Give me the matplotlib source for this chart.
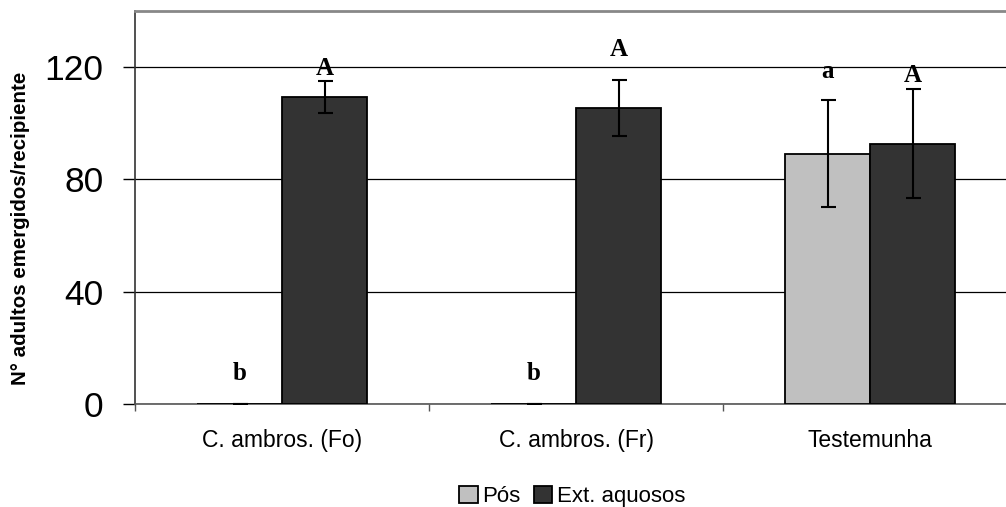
import matplotlib
matplotlib.use("Agg")
import matplotlib.pyplot as plt
import numpy as np
from matplotlib.patches import Patch

# Data
categories = ["C. ambros. (Fo)", "C. ambros. (Fr)", "Testemunha"]
series_names = ["Pós", "Ext. aquosos"]
pos_mean = [0.0, 0.0, 89.2]
pos_err = [0.0, 0.0, 19.0]
ext_mean = [109.4, 105.6, 92.8]
ext_err = [5.7, 10.0, 19.5]
pos_letters = ["b", "b", "a"]
ext_letters = ["A", "A", "A"]
pos_letter_y = [11.0, 11.0, 118.3]
ext_letter_y = [119.6, 126.2, 117.1]
yticks = [0, 40, 80, 120]

light = "#c0c0c0"
dark = "#333333"

fig = plt.figure(figsize=(10.06, 5.07), dpi=100)
ax = fig.add_axes([0.1342, 0.2032, 0.877, 0.775])

x = np.arange(len(categories))
w = 0.289
off = w / 2

err_kw = dict(ecolor="black", elinewidth=1.5, capsize=5.4, capthick=1.5)
ax.bar(x - off, pos_mean, w, color=light, edgecolor="black", linewidth=1.3,
       yerr=pos_err, error_kw=err_kw, zorder=3, label=series_names[0])
ax.bar(x + off, ext_mean, w, color=dark, edgecolor="black", linewidth=1.3,
       yerr=ext_err, error_kw=err_kw, zorder=3, label=series_names[1])

serif = dict(family="Liberation Serif", fontweight="bold", fontsize=18)
for i in range(len(categories)):
    ax.text(x[i] - off, pos_letter_y[i], pos_letters[i], ha="center", va="center", zorder=5, **serif)
    ax.text(x[i] + off, ext_letter_y[i], ext_letters[i], ha="center", va="center", zorder=5, **serif)

ax.set_xlim(-0.5, 2.5)
ax.set_ylim(0, 140)
ax.set_yticks(yticks)
ax.set_yticklabels([str(v) for v in yticks], fontsize=25.5, family="Liberation Sans")
ax.tick_params(axis="y", direction="out", length=8.6, width=1, pad=14, color="black")

ax.set_xticks(x)
ax.set_xticklabels(categories, fontsize=16.5, family="Liberation Sans")
ax.set_xticks([-0.5, 0.5, 1.5], minor=True)
ax.tick_params(axis="x", which="major", length=0, pad=18)
ax.tick_params(axis="x", which="minor", direction="out", length=5, width=1, color="#555555")

ax.yaxis.grid(True, color="black", linewidth=0.9, zorder=0)
ax.set_axisbelow(True)

ax.spines["right"].set_visible(False)
ax.spines["top"].set_color("#888888")
ax.spines["top"].set_linewidth(2)
ax.spines["left"].set_color("#333333")
ax.spines["left"].set_linewidth(1.2)
ax.spines["bottom"].set_color("#555555")
ax.spines["bottom"].set_linewidth(1.2)

ax.set_ylabel("N° adultos emergidos/recipiente", fontsize=14.8, fontweight="bold",
              family="Liberation Sans")
ax.yaxis.set_label_coords(-0.1195, 0.448)

handles = [Patch(facecolor=light, edgecolor="black", linewidth=1.3),
           Patch(facecolor=dark, edgecolor="black", linewidth=1.3)]
fig.legend(handles, series_names, loc="center", bbox_to_anchor=(572 / 1006, 1 - 496.5 / 507),
           ncol=2, frameon=False, prop=dict(family="Liberation Sans", size=16),
           handlelength=0.85, handleheight=0.85, handletextpad=0.2, columnspacing=0.6)

fig.savefig("out.png", dpi=100)
